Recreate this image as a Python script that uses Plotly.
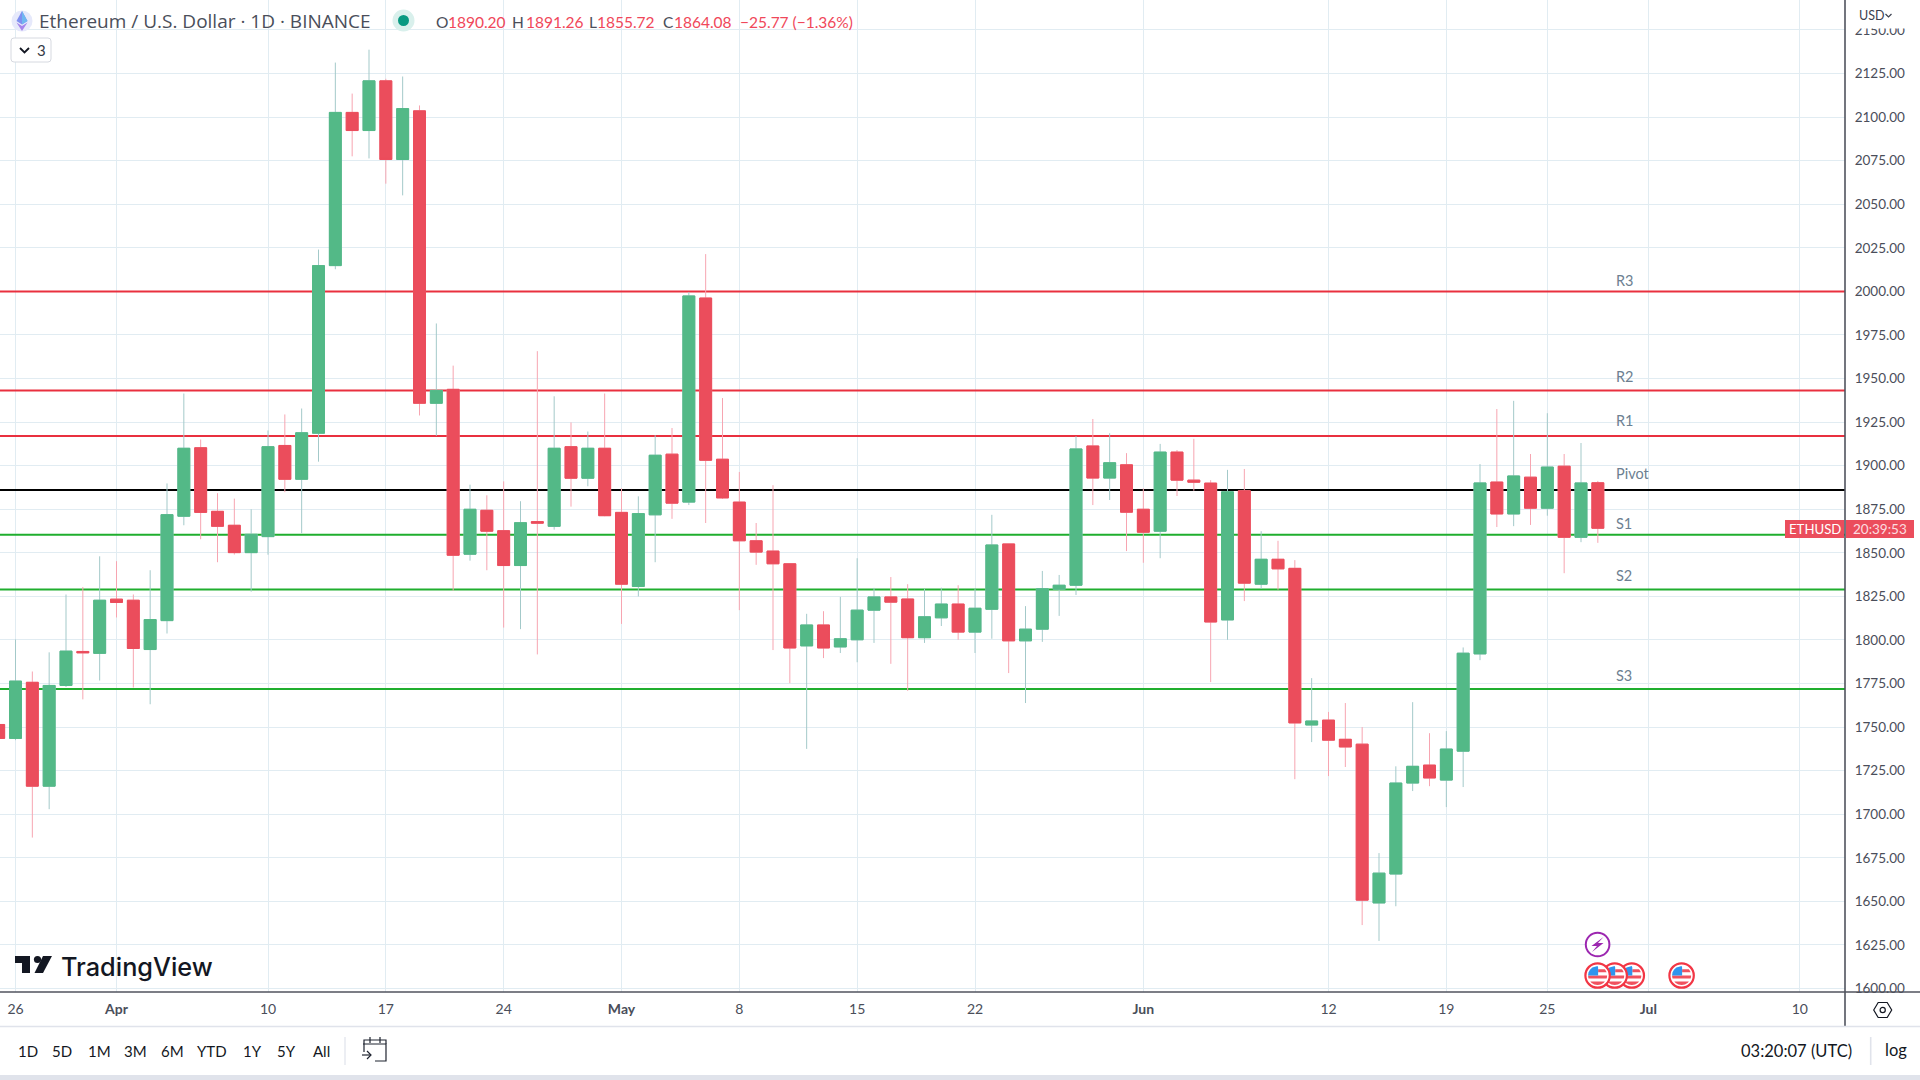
import math
import pandas as pd
import plotly.graph_objects as go

dates = pd.date_range("2023-03-25", "2023-06-28").strftime("%Y-%m-%d").tolist()

opens = [1751.5, 1743.5, 1775.7, 1716.1, 1773.9, 1793.4, 1792.3,
         1823.4, 1822.8, 1794.5, 1811.1, 1871, 1910.3, 1873.8, 1865.8, 1850.1, 1859.3,
         1911.6, 1892.2, 1918.6, 2014.8, 2102.7, 2092.3, 2120.8, 2075.7, 2103.6, 1935.8,
         1943.8, 1849.2, 1874.4, 1862.7, 1842.7, 1867.9, 1865.2, 1910.9, 1892.8, 1910,
         1873.2, 1830.7, 1871.8, 1906.6, 1879.1, 1996.2, 1903.7, 1879.1, 1856.9, 1851,
         1843.7, 1796.6, 1808.6, 1796, 1800.1, 1817.1, 1824.7, 1823.5, 1801.3, 1812.7,
         1820.6, 1804.5, 1817.6, 1855.1, 1799.5, 1806.2, 1829.1, 1831.4, 1911.3, 1892.9, 1900.5,
         1875, 1862.4, 1907.8, 1891.7, 1890, 1811.5, 1885.6, 1832, 1846.3, 1841.1,
         1751.2, 1754, 1743, 1740.2, 1649.1, 1665.7, 1717.9, 1728.2, 1719.6, 1736.2,
         1792, 1890.6, 1872.3, 1893.4, 1875.6, 1899.7, 1858.9, 1890.2]
highs = [1751.5, 1800.3, 1781.9, 1792.9, 1826.1, 1830.4, 1848,
         1845.2, 1826.1, 1840, 1889.8, 1941.4, 1915, 1884.2, 1881.1, 1875, 1920.2,
         1929.4, 1932.8, 2024, 2131.3, 2113.5, 2138.7, 2122, 2123.3, 2106.7, 1981.6,
         1957.4, 1889.1, 1883, 1891, 1879.6, 1965.7, 1939.8, 1924.8, 1919.6, 1941.4,
         1887, 1882.4, 1917.5, 1921.6, 1999.7, 2021.4, 1938.8, 1896.4, 1867.1, 1888.8,
         1843.7, 1815, 1816.5, 1824.7, 1846.9, 1829.9, 1836.1, 1832, 1829.4, 1830,
         1831.4, 1829.4, 1871.8, 1855.1, 1819.4, 1839.6, 1837.3, 1916.9, 1926.8, 1918.6, 1907.2,
         1887, 1912.5, 1909, 1915.4, 1891.7, 1897.6, 1898.1, 1862.4, 1856.9, 1845.8,
         1778.1, 1758.7, 1763.8, 1750, 1677.7, 1727.5, 1764.3, 1746.5, 1747.7, 1795.7,
         1900.9, 1932.5, 1937.2, 1906.7, 1930.1, 1906.7, 1913, 1891.26]
lows = [1743.5, 1742.5, 1686.6, 1702.9, 1773, 1765.9, 1776.7,
        1812.9, 1772.7, 1763.1, 1803.7, 1865.8, 1857.8, 1844.6, 1849, 1827.7, 1848.9,
        1884.8, 1861.2, 1902.3, 2012.7, 2077.5, 2076.3, 2061.8, 2055.1, 1928.8, 1917.1,
        1828.3, 1845.5, 1840, 1807.1, 1806.2, 1791.7, 1863.3, 1876.5, 1888.2, 1871,
        1809.2, 1825, 1844.6, 1869.5, 1877.4, 1867.1, 1880.9, 1817.1, 1843.1, 1794.2,
        1775.2, 1737.5, 1789.6, 1792.5, 1787.2, 1798.3, 1786.3, 1770.8, 1798.3, 1808,
        1800.1, 1792.5, 1800.7, 1781, 1763.8, 1798.9, 1813.8, 1825.8, 1877.4, 1880.3, 1851,
        1844.3, 1846.9, 1882.6, 1885.6, 1775.8, 1800.1, 1822.3, 1829.4, 1828.8, 1720.1,
        1741.4, 1721.9, 1727.1, 1636.4, 1627.3, 1647.2, 1713.3, 1716.1, 1704.1, 1715.6,
        1788.4, 1864.8, 1865.3, 1866, 1871.3, 1838.3, 1856.1, 1855.72]
closes = [1743.5, 1776.4, 1716.1, 1773.9, 1793.6, 1792.6, 1822.8,
          1821.5, 1795.1, 1811.7, 1871.9, 1910, 1873.2, 1865.2, 1850.1, 1860.6, 1910.9,
          1892.2, 1918.9, 2014.8, 2102.7, 2092.3, 2120.8, 2075.7, 2104.9, 1935.8, 1943.2,
          1848.6, 1875, 1862.4, 1842.7, 1867.3, 1867, 1910, 1892.8, 1910, 1871.3,
          1832, 1872.5, 1906, 1878.5, 1997.4, 1903.1, 1881.5, 1856.9, 1850.4, 1843.7,
          1795.4, 1808.6, 1795.4, 1800.7, 1817.1, 1824.7, 1821.7, 1801.3, 1813.3, 1820.6,
          1804.5, 1818.2, 1854.5, 1799.5, 1806.2, 1829.4, 1831.4, 1909.6, 1892.9, 1901.7, 1873.3,
          1861.8, 1907.8, 1891.7, 1890.5, 1810.3, 1885, 1832.6, 1846.3, 1840.8, 1752.4,
          1753.5, 1742.5, 1738.6, 1650.7, 1666.2, 1717.9, 1727.5, 1720.8, 1737.4, 1792.4,
          1890.1, 1872.3, 1894.1, 1875.6, 1899.2, 1858.9, 1890.1, 1864.08]

level_names = ["R3", "R2", "R1", "Pivot", "S1", "S2", "S3"]
level_values = [2000, 1943.2, 1917, 1886, 1860.4, 1829, 1771.8]
level_colors = ["#e9303f", "#e9303f", "#e9303f", "#000000", "#1fae2e", "#1fae2e", "#1fae2e"]
level_shift = [11, 14, 16, 17, 11, 14, 14]

tick_dates = ["2023-03-26", "2023-04-01", "2023-04-10", "2023-04-17", "2023-04-24", "2023-05-01",
              "2023-05-08", "2023-05-15", "2023-05-22", "2023-06-01", "2023-06-12", "2023-06-19",
              "2023-06-25", "2023-07-01", "2023-07-10"]
tick_text = ["26", "<b>Apr</b>", "10", "17", "24", "<b>May</b>", "8", "15", "22", "<b>Jun</b>",
             "12", "19", "25", "<b>Jul</b>", "10"]

range_buttons = ["1D", "5D", "1M", "3M", "6M", "YTD", "1Y", "5Y", "All"]
range_button_x = [27.5, 61.5, 99, 135, 172, 212, 252, 286.6, 321.5]

GREEN = "#53b987"
RED = "#eb4d5c"
GREEN_WICK = "#a3c9c9"
RED_WICK = "#f7a5b1"
GRID = "#e1ecf2"
AXIS = "#50535e"
FONT = "Lato"

W, H = 1920, 1080
PW, PH = 1845, 992
X_RANGE = ["2023-03-25 01:54", "2023-07-12 16:24"]


def px(x):
    return x / PW


def py(y):
    return 1 - y / PH


shapes = []
annotations = []


def rect(x0, y0, x1, y1, fill, line=None, lw=0, layer="above"):
    shapes.append(dict(type="rect", xref="paper", yref="paper", x0=px(x0), x1=px(x1), y0=py(y0), y1=py(y1),
                       fillcolor=fill, line=dict(color=line or fill, width=lw), layer=layer))


def seg(x0, y0, x1, y1, color, lw=1):
    shapes.append(dict(type="line", xref="paper", yref="paper", x0=px(x0), x1=px(x1), y0=py(y0), y1=py(y1),
                       line=dict(color=color, width=lw), layer="above"))


def circle(cx, cy, r, fill, line=None, lw=0):
    shapes.append(dict(type="circle", xref="paper", yref="paper", x0=px(cx - r), x1=px(cx + r),
                       y0=py(cy - r), y1=py(cy + r), fillcolor=fill,
                       line=dict(color=line or fill, width=lw), layer="above"))


def poly(points, fill=None, line=None, lw=0, close=True):
    d = "M" + " L".join(f"{px(x):.5f},{py(y):.5f}" for x, y in points)
    if close:
        d += " Z"
    shapes.append(dict(type="path", xref="paper", yref="paper", path=d,
                       fillcolor=fill if fill else "rgba(0,0,0,0)",
                       line=dict(color=line or "rgba(0,0,0,0)", width=lw), layer="above"))


def label(x, y, text, size=15, color="#131722", anchor="left", weight=None, family=FONT):
    annotations.append(dict(xref="paper", yref="paper", x=px(x), y=py(y), text=text, showarrow=False,
                            xanchor=anchor, yanchor="middle", borderpad=0,
                            font=dict(family=family, size=size, color=color, weight=weight)))


def band(cx, cy, r, y0, y1, x_min=None, x_max=None, fill="#f0525f"):
    # slice of a circle between two heights, used for the flag stripes
    n = 6
    left, right = [], []
    for i in range(n + 1):
        dy = y0 + (y1 - y0) * i / n
        half = math.sqrt(max(r * r - dy * dy, 0))
        xl = -half if x_min is None else max(-half, x_min)
        xr = half if x_max is None else min(half, x_max)
        left.append((cx + xl, cy + dy))
        right.append((cx + xr, cy + dy))
    poly(right + left[::-1], fill=fill)


def flag(cx, cy):
    circle(cx, cy, 12.2, "#ffffff", "#f23645", 2.2)
    band(cx, cy, 9.5, -6.2, -3.2, x_min=0.5)
    band(cx, cy, 9.5, 0, 3)
    band(cx, cy, 9.5, 6, 9.5)
    band(cx, cy, 9.5, -9.5, 0, x_max=0.5, fill="#2f95ee")


# level lines sit between the grid and the candles
for value, color in zip(level_values, level_colors):
    shapes.append(dict(type="line", xref="x", yref="y", x0=X_RANGE[0], x1=X_RANGE[1],
                       y0=value, y1=value, line=dict(color=color, width=2), layer="between"))

for name, value, shift in zip(level_names, level_values, level_shift):
    annotations.append(dict(xref="x", yref="y", x="2023-06-29", y=value, yshift=shift, text=name,
                            showarrow=False, xanchor="left", yanchor="middle", borderpad=0,
                            font=dict(family=FONT, size=14.5, color="#6d7f91")))

# axis bands: hide clipped tick labels
rect(1846, 0, W, 28.5, "#ffffff")
rect(1846, 993, W, 1026, "#ffffff")
rect(0, 1027, W, 1075, "#ffffff")
rect(0, 1075, W, H, "#e0e3eb")
seg(0, 992, W, 992, AXIS, 1.6)
seg(1845, 0, 1845, 1026, AXIS, 1.6)
seg(0, 1026.5, W, 1026.5, "#e0e3eb", 1.5)

# price tag
rect(1785, 520, 1844, 538, RED)
rect(1846, 520, 1914, 538, RED)
label(1814.5, 529, "ETHUSD", 13.2, "#ffffff", "center")
label(1880, 529, "20:39:53", 13.5, "#fbdde0", "center")

# header
circle(22, 21, 10.5, "#e6e9fb")
poly([(22, 11), (27.5, 21), (22, 24.5), (16.5, 21)], fill="#7f8ff0")
poly([(22, 11), (27.5, 21), (22, 24.5)], fill="#6fb7f0")
poly([(16.5, 22.5), (22, 26), (27.5, 22.5), (22, 31)], fill="#a585ec")
label(38, 21, "Ethereum / U.S. Dollar · 1D · BINANCE", 19, "#4a4e5a", family="Open Sans")
circle(403.5, 20.5, 11, "#d9f0ec")
circle(403.5, 20.5, 5.5, "#089981")
ohlc_label_x = [435, 511, 588, 662]
ohlc_label_text = ["O", "H", "L", "C"]
ohlc_value_x = [447, 524.5, 596, 673, 739]
ohlc_value_text = ["1890.20", "1891.26", "1855.72", "1864.08", "−25.77 (−1.36%)"]
for x, t in zip(ohlc_label_x, ohlc_label_text):
    label(x, 22, t, 15.5, "#4a4e5a")
for x, t in zip(ohlc_value_x, ohlc_value_text):
    label(x, 22, t, 15.5, "#f0475a")

# collapsed indicators button
shapes.append(dict(type="path", xref="paper", yref="paper",
                   path=f"M{px(14)},{py(38)} L{px(48)},{py(38)} Q{px(51)},{py(38)} {px(51)},{py(41)} L{px(51)},{py(59)} "
                        f"Q{px(51)},{py(62)} {px(48)},{py(62)} L{px(14)},{py(62)} Q{px(11)},{py(62)} {px(11)},{py(59)} "
                        f"L{px(11)},{py(41)} Q{px(11)},{py(38)} {px(14)},{py(38)} Z",
                   fillcolor="#ffffff", line=dict(color="#d6d9e0", width=1), layer="above"))
poly([(20, 48), (24.5, 52.5), (29, 48)], line="#131722", lw=1.8, close=False)
label(36, 50, "3", 15, "#363a45")

# USD button
label(1857.5, 16, "USD", 12.5, "#3b4150")
poly([(1885.5, 14), (1888.5, 17), (1891.5, 14)], line="#3b4150", lw=1.2, close=False)

# TradingView logo
poly([(15, 956), (30, 956), (30, 973), (22, 973), (22, 963), (15, 963)], fill="#131722")
circle(37.5, 959.5, 3.6, "#131722")
poly([(43, 956), (52, 956), (43, 973), (34.5, 973)], fill="#131722")
label(60, 966, "TradingView", 25.3, "#131722", weight=500, family="Inter")

# event markers
circle(1597.6, 944.5, 11.8, "#ffffff", "#9c27b0", 2)
poly([(1603.5, 937), (1591.5, 946), (1597, 946), (1592, 952), (1603.5, 943), (1598, 943)], fill="#9c27b0")
for cx in [1681.6, 1631.8, 1614.7, 1597.6]:
    flag(cx, 975.5)

# settings hexagon
hx, hy = 1882.7, 1010
poly([(hx - 9, hy), (hx - 4.5, hy - 7.5), (hx + 4.5, hy - 7.5), (hx + 9, hy), (hx + 4.5, hy + 7.5), (hx - 4.5, hy + 7.5)],
     line="#131722", lw=1.2)
circle(hx, hy, 2.6, "#ffffff", "#131722", 1.2)

# bottom toolbar
for x, t in zip(range_button_x, range_buttons):
    label(x, 1051, t, 15, "#131722", "center")
seg(345, 1037, 345, 1065, "#e0e3eb", 1.2)
poly([(363, 1044), (386, 1044), (386, 1061), (375, 1061)], line="#1f2430", lw=1.2, close=False)
poly([(364, 1052), (364, 1040), (386, 1040), (386, 1044)], line="#1f2430", lw=1.2, close=False)
seg(370, 1037, 370, 1043, "#1f2430", 1.2)
seg(380, 1037, 380, 1043, "#1f2430", 1.2)
seg(362, 1055, 371, 1055, "#1f2430", 1.2)
poly([(367, 1051), (371, 1055), (367, 1059)], line="#1f2430", lw=1.2, close=False)
label(1740, 1051, "03:20:07 (UTC)", 16.5, "#131722")
seg(1870.7, 1037, 1870.7, 1065, "#e0e3eb", 1.6)
label(1884, 1050, "log", 16.5, "#131722")

fig = go.Figure()

# pale wicks first, solid bodies drawn over them
fig.add_trace(go.Candlestick(x=dates, open=opens, high=highs, low=lows, close=closes,
                             increasing=dict(line=dict(color=GREEN_WICK, width=1), fillcolor=GREEN_WICK),
                             decreasing=dict(line=dict(color=RED_WICK, width=1), fillcolor=RED_WICK),
                             hoverinfo="skip", showlegend=False))
body_high = [max(o, c) for o, c in zip(opens, closes)]
body_low = [min(o, c) for o, c in zip(opens, closes)]
fig.add_trace(go.Candlestick(x=dates, open=opens, high=body_high, low=body_low, close=closes,
                             increasing=dict(line=dict(color=GREEN, width=1), fillcolor=GREEN),
                             decreasing=dict(line=dict(color=RED, width=1), fillcolor=RED),
                             hoverinfo="skip", showlegend=False))

fig.update_layout(
    width=W, height=H,
    margin=dict(l=0, r=W - PW, t=0, b=H - PH, pad=0),
    paper_bgcolor="#ffffff", plot_bgcolor="#ffffff",
    showlegend=False, boxmode="overlay", boxgap=0.29, boxgroupgap=0,
    shapes=shapes, annotations=annotations,
    font=dict(family=FONT, size=14, color="#4a4e5a"),
    xaxis=dict(type="date", range=X_RANGE, rangeslider_visible=False,
               tickmode="array", tickvals=tick_dates, ticktext=tick_text, tickangle=0,
               showgrid=True, gridcolor=GRID, gridwidth=1, zeroline=False, showline=False,
               ticks="outside", ticklen=4.5, tickcolor="rgba(0,0,0,0)",
               tickfont=dict(family=FONT, size=14, color="#4a4e5a")),
    yaxis=dict(range=[1598.0, 2167.2], side="right", tick0=1600, dtick=25, tickformat=".2f",
               showgrid=True, gridcolor=GRID, gridwidth=1, zeroline=False, showline=False,
               ticks="outside", ticklen=6, tickcolor="rgba(0,0,0,0)",
               tickfont=dict(family=FONT, size=13.5, color="#4a4e5a")),
)

fig.write_html("out.html", config={"displayModeBar": False},
               post_script="document.body.style.margin='0';document.body.style.overflow='hidden';")
